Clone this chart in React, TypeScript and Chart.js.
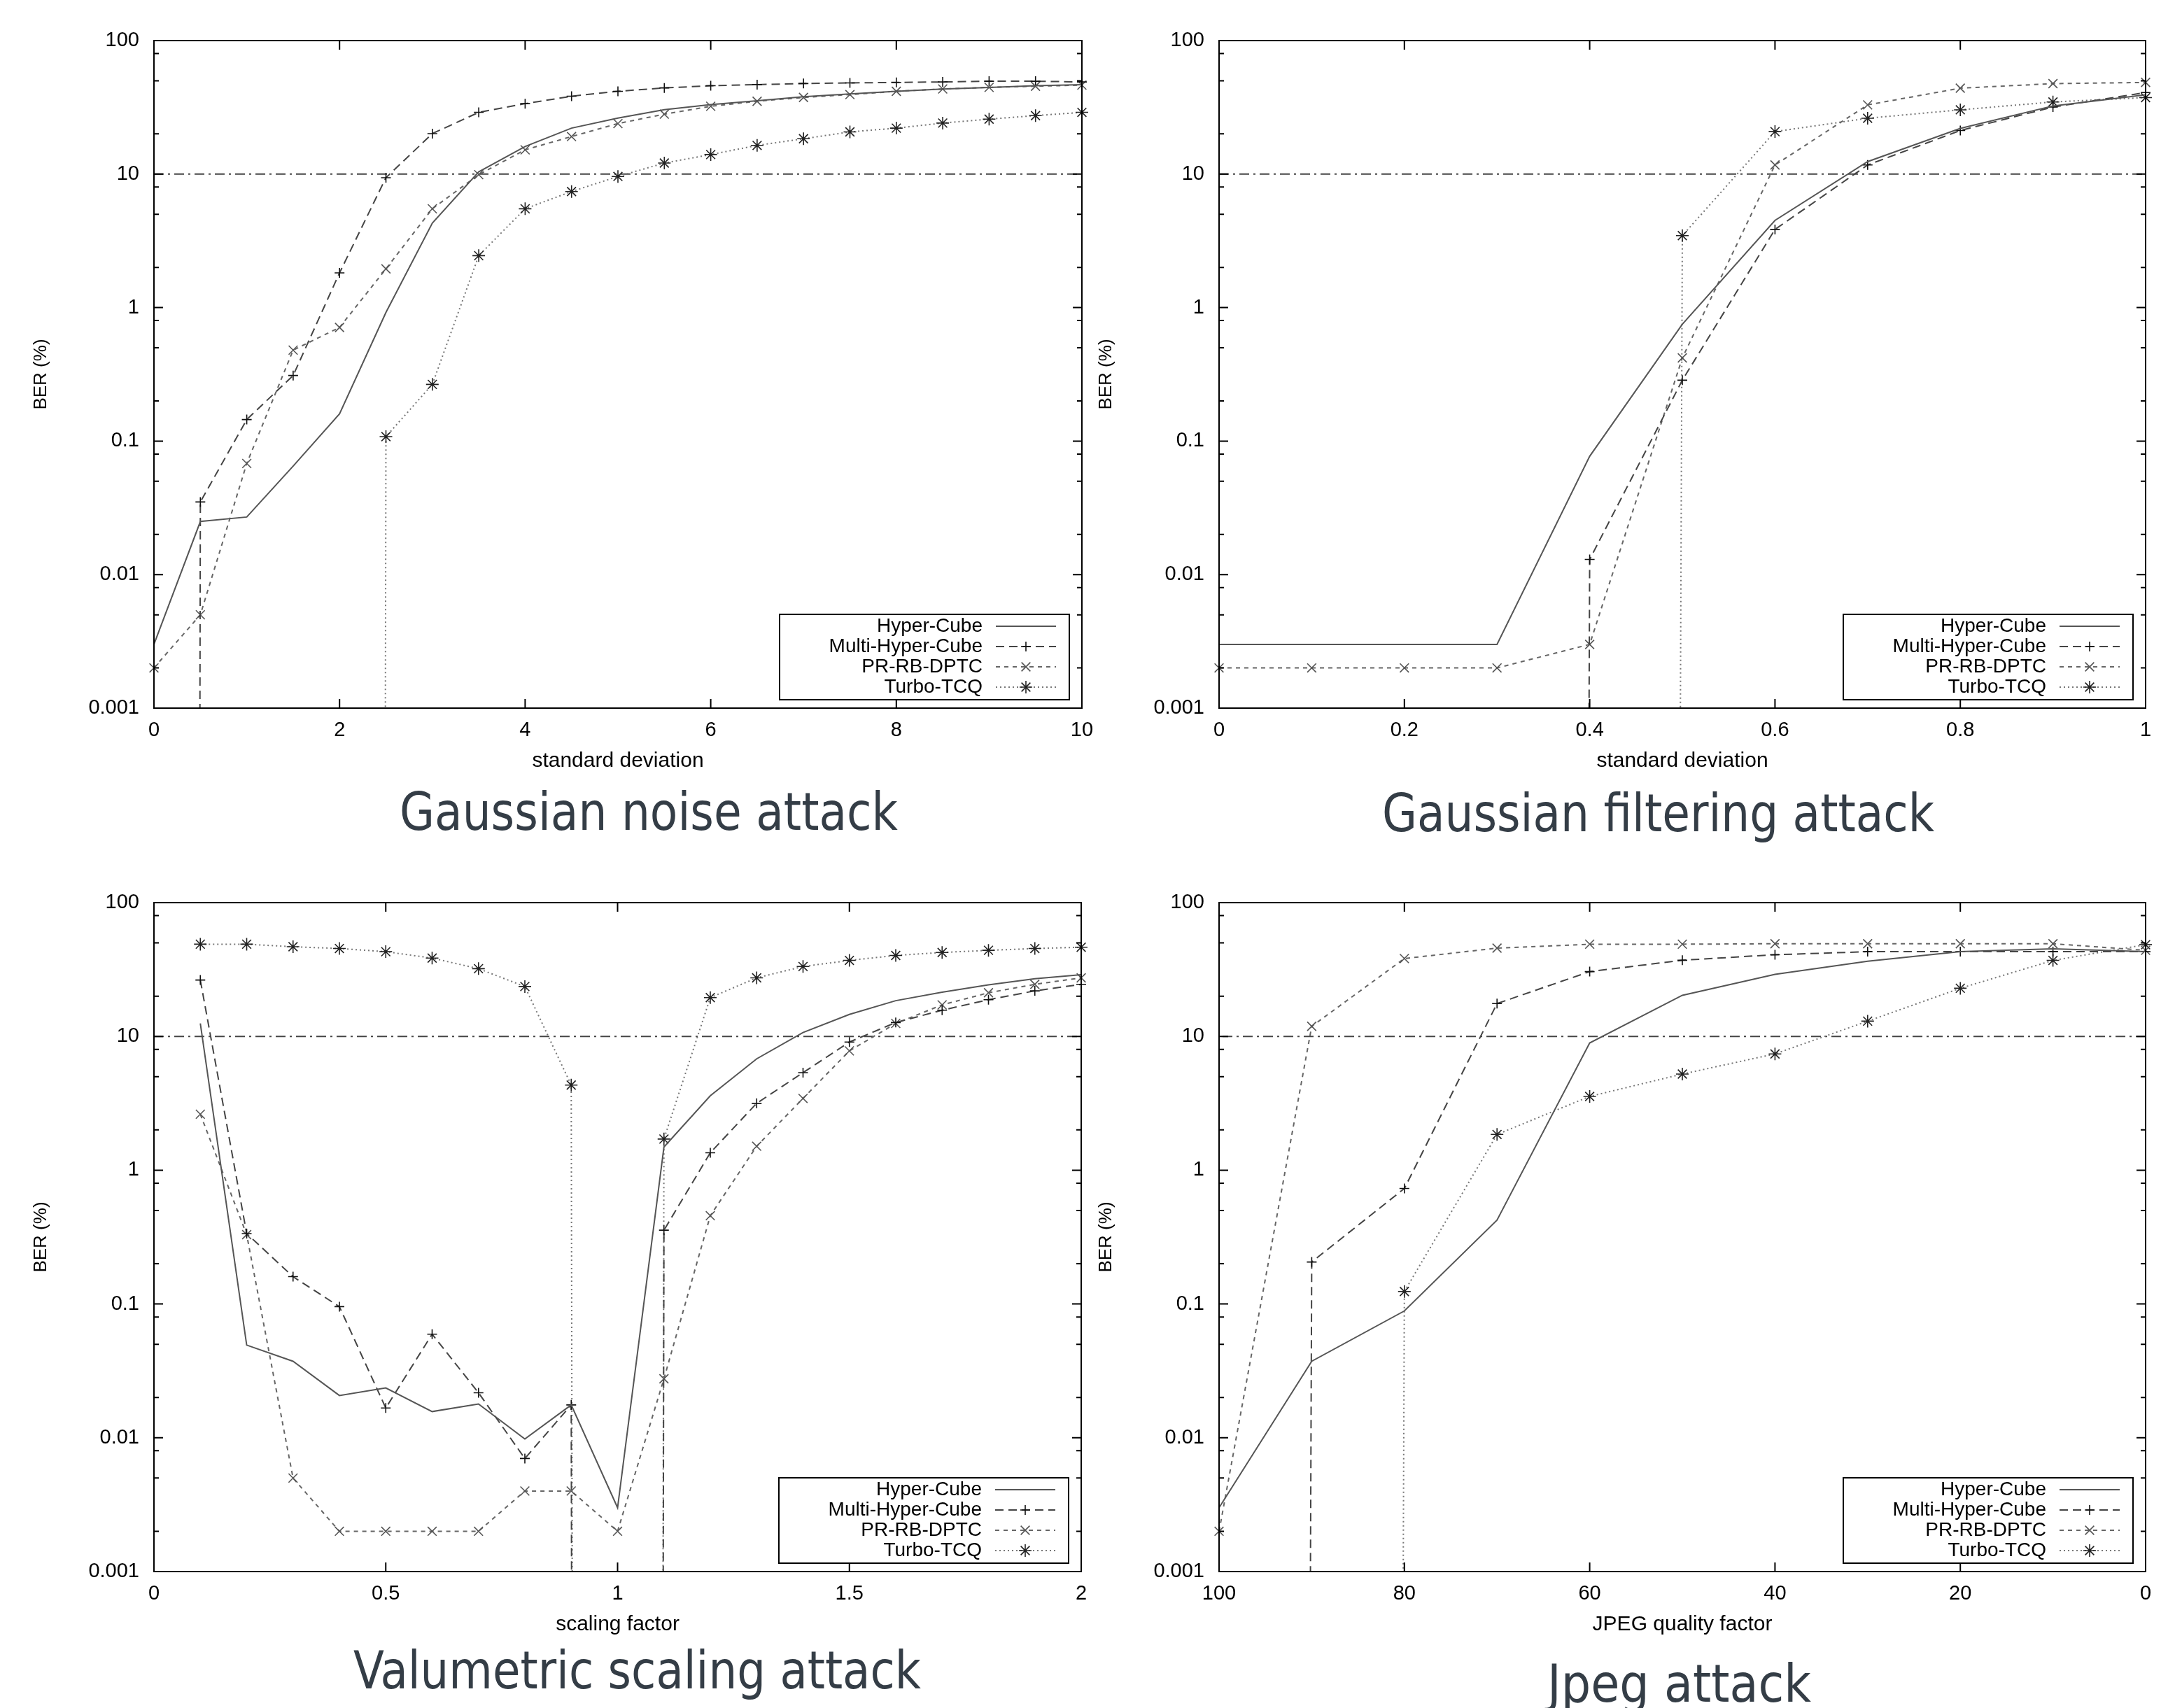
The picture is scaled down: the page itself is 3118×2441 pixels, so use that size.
import React, { useEffect, useLayoutEffect, useRef } from 'react';
import { Chart, registerables } from 'chart.js';
import { drawPoint } from 'chart.js/helpers';

Chart.register(...registerables);

// A BER of zero: it lies far below the log axis, so gnuplot-style the line drops vertically to the edge.
const Z = 1e-300;

const seriesNames = ['Hyper-Cube', 'Multi-Hyper-Cube', 'PR-RB-DPTC', 'Turbo-TCQ'];
const threshold = 10;

const yMajor = [0.001, 0.01, 0.1, 1, 10, 100];
const yTickLabels = ['0.001', '0.01', '0.1', '1', '10', '100'];
const yMinorMultiples = [2, 5, 8];

// ---- Gaussian noise attack ----
const noiseX = [0, 0.5, 1, 1.5, 2, 2.5, 3, 3.5, 4, 4.5, 5, 5.5, 6, 6.5, 7, 7.5, 8, 8.5, 9, 9.5, 10];
const noiseHyper = [0.003, 0.025, 0.027, 0.065, 0.16, 0.92, 4.3, 10.4, 16.1, 22.1, 26.3, 30.4, 33.1, 35.4, 38, 39.8, 41.7, 43.4, 44.6, 45.9, 46.8];
const noiseMulti = [Z, 0.035, 0.145, 0.31, 1.82, 9.4, 20.1, 29, 33.7, 38.3, 41.7, 44.2, 45.9, 46.8, 47.7, 48.2, 48.6, 49, 49.6, 49.6, 49];
const noisePR = [0.002, 0.005, 0.068, 0.48, 0.71, 1.95, 5.5, 9.9, 15.2, 19.1, 23.9, 28.1, 32.2, 35.1, 37.5, 39.4, 41.7, 43.4, 44.6, 45.5, 46.4];
const noiseTurbo = [Z, Z, Z, Z, Z, 0.108, 0.266, 2.45, 5.5, 7.4, 9.6, 12.1, 14, 16.4, 18.4, 20.7, 22.1, 24.1, 25.8, 27.4, 29];
const noiseTicks = [0, 2, 4, 6, 8, 10];
const noiseTickLabels = ['0', '2', '4', '6', '8', '10'];

// ---- Gaussian filtering attack ----
const filterX = [0, 0.1, 0.2, 0.3, 0.4, 0.5, 0.6, 0.7, 0.8, 0.9, 1];
const filterHyper = [0.003, 0.003, 0.003, 0.003, 0.077, 0.75, 4.5, 12.4, 22, 32.4, 39.3];
const filterMulti = [Z, Z, Z, Z, 0.013, 0.286, 3.85, 11.7, 21.2, 31.8, 40.8];
const filterPR = [0.002, 0.002, 0.002, 0.002, 0.003, 0.42, 11.7, 33, 44, 47.6, 48.6];
const filterTurbo = [Z, Z, Z, Z, Z, 3.46, 20.8, 26.2, 30.3, 34.7, 37.4];
const filterTicks = [0, 0.2, 0.4, 0.6, 0.8, 1];
const filterTickLabels = ['0', '0.2', '0.4', '0.6', '0.8', '1'];

// ---- Valumetric scaling attack ----
const scaleX = [0.1, 0.2, 0.3, 0.4, 0.5, 0.6, 0.7, 0.8, 0.9, 1.0, 1.1, 1.2, 1.3, 1.4, 1.5, 1.6, 1.7, 1.8, 1.9, 2.0];
const scaleHyper = [12.5, 0.0493, 0.0373, 0.0207, 0.0236, 0.0157, 0.0179, 0.0098, 0.0176, 0.003, 1.49, 3.6, 6.8, 10.7, 14.6, 18.5, 21.4, 24.3, 27, 28.9];
const scaleMulti = [26.4, 0.336, 0.16, 0.0955, 0.0167, 0.0595, 0.0217, 0.007, 0.0176, Z, 0.356, 1.35, 3.16, 5.36, 9.08, 12.7, 15.7, 18.8, 21.9, 24.5];
const scalePR = [2.62, 0.33, 0.005, 0.002, 0.002, 0.002, 0.002, 0.004, 0.004, 0.002, 0.0276, 0.457, 1.51, 3.44, 7.8, 12.5, 17.2, 21.2, 24.5, 27.4];
const scaleTurbo = [48.9, 48.9, 46.8, 45.4, 43, 38.5, 32.1, 23.6, 4.33, Z, 1.71, 19.5, 27.4, 33.3, 37, 40.3, 42.4, 44, 45.4, 46.4];
const scaleTicks = [0, 0.5, 1, 1.5, 2];
const scaleTickLabels = ['0', '0.5', '1', '1.5', '2'];

// ---- Jpeg attack ----
const jpegX = [100, 90, 80, 70, 60, 50, 40, 30, 20, 10, 0];
const jpegHyper = [0.003, 0.0373, 0.0887, 0.424, 8.93, 20.3, 29.1, 36.5, 43, 45.1, 43];
const jpegMulti = [Z, 0.206, 0.73, 17.6, 30.5, 37.1, 40.8, 43, 43, 43, 43];
const jpegPR = [0.002, 11.9, 38.2, 45.7, 48.9, 48.9, 49.3, 49.3, 49.3, 49.3, 44];
const jpegTurbo = [Z, Z, 0.124, 1.85, 3.56, 5.23, 7.4, 13, 22.9, 37, 48.5];
const jpegTicks = [100, 80, 60, 40, 20, 0];
const jpegTickLabels = ['100', '80', '60', '40', '20', '0'];

const FONT = '"Liberation Sans", Arial, Helvetica, sans-serif';

const styles = [
  { borderColor: '#555555', borderWidth: 2, borderDash: [] as number[], pointStyle: 'circle', pointRadius: 0, pointColor: '#555555' },
  { borderColor: '#444444', borderWidth: 2, borderDash: [12, 7], pointStyle: 'cross', pointRadius: 7, pointColor: '#111111' },
  { borderColor: '#666666', borderWidth: 2, borderDash: [6, 6], pointStyle: 'crossRot', pointRadius: 9, pointColor: '#555555' },
  { borderColor: '#777777', borderWidth: 2, borderDash: [2, 4], pointStyle: 'star', pointRadius: 9, pointColor: '#222222' },
];

type PanelDef = {
  box: { left: number; top: number; right: number; bottom: number };
  x: number[];
  series: number[][];
  xMin: number;
  xMax: number;
  reverse: boolean;
  ticks: number[];
  tickLabels: string[];
  xTitle: string;
  title: string;
  titlePos: { left: number; width: number; baseline: number };
};

const panels: PanelDef[] = [
  {
    box: { left: 220, top: 58, right: 1546, bottom: 1012 },
    x: noiseX, series: [noiseHyper, noiseMulti, noisePR, noiseTurbo],
    xMin: 0, xMax: 10, reverse: false, ticks: noiseTicks, tickLabels: noiseTickLabels,
    xTitle: 'standard deviation', title: 'Gaussian noise attack',
    titlePos: { left: 571, width: 712, baseline: 1186 },
  },
  {
    box: { left: 1742, top: 58, right: 3066, bottom: 1012 },
    x: filterX, series: [filterHyper, filterMulti, filterPR, filterTurbo],
    xMin: 0, xMax: 1, reverse: false, ticks: filterTicks, tickLabels: filterTickLabels,
    xTitle: 'standard deviation', title: 'Gaussian filtering attack',
    titlePos: { left: 1975, width: 789, baseline: 1188 },
  },
  {
    box: { left: 220, top: 1290, right: 1545, bottom: 2246 },
    x: scaleX, series: [scaleHyper, scaleMulti, scalePR, scaleTurbo],
    xMin: 0, xMax: 2, reverse: false, ticks: scaleTicks, tickLabels: scaleTickLabels,
    xTitle: 'scaling factor', title: 'Valumetric scaling attack',
    titlePos: { left: 505, width: 811, baseline: 2413 },
  },
  {
    box: { left: 1742, top: 1290, right: 3066, bottom: 2246 },
    x: jpegX, series: [jpegHyper, jpegMulti, jpegPR, jpegTurbo],
    xMin: 0, xMax: 100, reverse: true, ticks: jpegTicks, tickLabels: jpegTickLabels,
    xTitle: 'JPEG quality factor', title: 'Jpeg attack',
    titlePos: { left: 2211, width: 377, baseline: 2432 },
  },
];

const YW = 220; // y axis box width
const PT = 58; // top padding
const XH = 118; // x axis box height
const PR = 40; // right padding

function PanelChart({ p }: { p: PanelDef }) {
  const ref = useRef<HTMLCanvasElement>(null);
  const w = p.box.right - p.box.left + YW + PR;
  const h = p.box.bottom - p.box.top + PT + XH;

  useEffect(() => {
    const canvas = ref.current!;
    const datasets: any[] = p.series.map((vals, si) => {
      const s = styles[si];
      return {
        label: seriesNames[si],
        data: p.x.map((xv, i) => ({ x: xv, y: vals[i] })),
        borderColor: s.borderColor,
        borderWidth: s.borderWidth,
        borderDash: s.borderDash,
        pointStyle: s.pointStyle,
        pointRadius: s.pointRadius,
        pointBorderColor: s.pointColor,
        pointBackgroundColor: s.pointColor,
        pointBorderWidth: 1.6,
        fill: false,
        tension: 0,
        clip: { left: 20, right: 20, top: 20, bottom: 0 },
      };
    });
    datasets.push({
      label: '__threshold',
      data: [{ x: p.xMin, y: threshold }, { x: p.xMax, y: threshold }],
      borderColor: '#444444',
      borderWidth: 2,
      borderDash: [14, 6, 3, 6],
      pointRadius: 0,
      fill: false,
      clip: 0,
    });

    const frame = {
      id: 'gnuFrame',
      afterDatasetsDraw(chart: any) {
        const { ctx, chartArea: a } = chart;
        const xs = chart.scales.x;
        const ys = chart.scales.y;
        ctx.save();
        ctx.setLineDash([]);
        ctx.strokeStyle = '#000';
        ctx.lineWidth = 2;
        ctx.strokeRect(a.left, a.top, a.right - a.left, a.bottom - a.top);
        ctx.beginPath();
        for (const v of p.ticks) {
          const px = xs.getPixelForValue(v);
          ctx.moveTo(px, a.bottom); ctx.lineTo(px, a.bottom - 13);
          ctx.moveTo(px, a.top); ctx.lineTo(px, a.top + 13);
        }
        for (const v of yMajor) {
          const py = ys.getPixelForValue(v);
          ctx.moveTo(a.left, py); ctx.lineTo(a.left + 13, py);
          ctx.moveTo(a.right, py); ctx.lineTo(a.right - 13, py);
        }
        for (const d of yMajor.slice(0, -1)) {
          for (const m of yMinorMultiples) {
            const py = ys.getPixelForValue(d * m);
            ctx.moveTo(a.left, py); ctx.lineTo(a.left + 7, py);
            ctx.moveTo(a.right, py); ctx.lineTo(a.right - 7, py);
          }
        }
        ctx.stroke();
        ctx.restore();
      },
    };

    const key = {
      id: 'gnuKey',
      afterDraw(chart: any) {
        const { ctx, chartArea: a } = chart;
        const items = chart.data.datasets.filter((d: any) => d.label !== '__threshold');
        ctx.save();
        ctx.setLineDash([]);
        ctx.strokeStyle = '#000';
        ctx.lineWidth = 2;
        ctx.strokeRect(a.right - 432, a.bottom - 134, 414, 122);
        items.forEach((d: any, i: number) => {
          const y = a.bottom - 117 + i * 29;
          ctx.font = `28px ${FONT}`;
          ctx.fillStyle = '#000';
          ctx.textAlign = 'right';
          ctx.textBaseline = 'middle';
          ctx.fillText(d.label, a.right - 142, y);
          ctx.strokeStyle = d.borderColor;
          ctx.lineWidth = d.borderWidth;
          ctx.setLineDash(d.borderDash || []);
          ctx.beginPath();
          ctx.moveTo(a.right - 123, y);
          ctx.lineTo(a.right - 37, y);
          ctx.stroke();
          if (d.pointRadius > 0) {
            ctx.setLineDash([]);
            ctx.strokeStyle = d.pointBorderColor;
            ctx.fillStyle = d.pointBorderColor;
            ctx.lineWidth = d.pointBorderWidth;
            drawPoint(ctx, { pointStyle: d.pointStyle, radius: d.pointRadius, rotation: 0, borderWidth: d.pointBorderWidth } as any, a.right - 80, y);
          }
        });
        ctx.restore();
      },
    };

    const chart = new Chart(canvas, {
      type: 'line',
      data: { datasets },
      options: {
        animation: false,
        responsive: false,
        maintainAspectRatio: false,
        devicePixelRatio: 1,
        events: [],
        layout: { padding: { top: PT, right: PR, left: 0, bottom: 0 } },
        plugins: { legend: { display: false }, tooltip: { enabled: false } },
        scales: {
          x: {
            type: 'linear',
            min: p.xMin,
            max: p.xMax,
            reverse: p.reverse,
            grid: { display: false, drawTicks: false },
            border: { display: false },
            afterBuildTicks: (s: any) => { s.ticks = p.ticks.map((v) => ({ value: v })); },
            afterFit: (s: any) => { s.height = XH; },
            ticks: {
              font: { family: FONT, size: 29 },
              color: '#000',
              padding: 15,
              maxRotation: 0,
              autoSkip: false,
              callback: (_v: any, i: number) => p.tickLabels[i],
            },
            title: {
              display: true,
              text: p.xTitle,
              color: '#000',
              font: { family: FONT, size: 30 },
              padding: { top: 0, bottom: 24 },
            },
          },
          y: {
            type: 'logarithmic',
            min: 0.001,
            max: 100,
            grid: { display: false, drawTicks: false },
            border: { display: false },
            afterBuildTicks: (s: any) => { s.ticks = yMajor.map((v) => ({ value: v })); },
            afterFit: (s: any) => { s.width = YW; },
            ticks: {
              font: { family: FONT, size: 29 },
              color: '#000',
              padding: 21,
              autoSkip: false,
              callback: (_v: any, i: number) => yTickLabels[i],
            },
            title: {
              display: true,
              text: 'BER (%)',
              color: '#000',
              font: { family: FONT, size: 26 },
              padding: { top: 43, bottom: 0 },
            },
          },
        },
      } as any,
      plugins: [frame, key],
    });
    return () => chart.destroy();
  }, []);

  return (
    <canvas
      ref={ref}
      width={w}
      height={h}
      style={{ position: 'absolute', left: p.box.left - YW, top: p.box.top - PT, width: w, height: h }}
    />
  );
}

const TITLE_SIZE = 75;

function BigTitle({ p }: { p: PanelDef }) {
  const ref = useRef<HTMLSpanElement>(null);
  useLayoutEffect(() => {
    const el = ref.current!;
    el.style.transform = 'none';
    const wd = el.getBoundingClientRect().width;
    if (wd > 0) el.style.transform = `scaleX(${p.titlePos.width / wd})`;
  }, []);
  return (
    <span
      ref={ref}
      style={{
        position: 'absolute',
        left: p.titlePos.left,
        top: p.titlePos.baseline - 0.846 * TITLE_SIZE,
        fontSize: TITLE_SIZE,
        lineHeight: `${TITLE_SIZE}px`,
        fontFamily: '"DejaVu Sans Condensed", "DejaVu Sans", Verdana, sans-serif',
        fontStretch: 'condensed',
        color: '#343d46',
        whiteSpace: 'nowrap',
        transformOrigin: '0 0',
      }}
    >
      {p.title}
    </span>
  );
}

export default function App() {
  return (
    <div style={{ position: 'absolute', left: 0, top: 0, width: 3118, height: 2441, overflow: 'hidden', background: '#fff' }}>
      {panels.map((p, i) => (
        <PanelChart key={'c' + i} p={p} />
      ))}
      {panels.map((p, i) => (
        <BigTitle key={'t' + i} p={p} />
      ))}
    </div>
  );
}
